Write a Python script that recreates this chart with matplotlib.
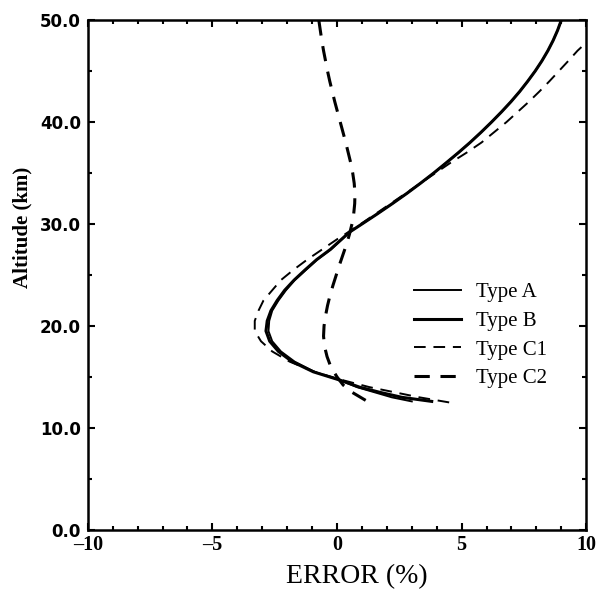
import matplotlib
matplotlib.use("Agg")
import matplotlib.pyplot as plt
from matplotlib.ticker import MultipleLocator

plt.rcParams['font.family'] = ['Liberation Serif', 'DejaVu Serif']

# altitude (km) / error (%)
alt_a = [12.6, 13.0, 13.5, 14.0, 14.7, 15.5, 16.5, 17.5, 18.5, 19.5, 20.5, 21.5,
         22.5, 23.5, 24.5, 25.5, 26.5, 27.5, 28.5, 29.2, 30, 31, 32, 33, 34, 35,
         36, 37, 38, 39, 40, 41, 42, 43, 44, 45, 46, 47, 48, 49, 50]
err_a = [3.0, 2.2, 1.5, 0.8, 0.1, -0.9, -1.7, -2.25, -2.6, -2.75, -2.72, -2.6,
         -2.35, -2.05, -1.7, -1.25, -0.8, -0.25, 0.2, 0.5, 1.0, 1.62, 2.22, 2.8,
         3.35, 3.88, 4.38, 4.87, 5.34, 5.78, 6.2, 6.6, 6.98, 7.33, 7.65, 7.95,
         8.22, 8.46, 8.67, 8.85, 9.0]

alt_b = [12.6, 13.0, 13.5, 14.0, 14.7, 15.5, 16.5, 17.5, 18.5, 19.5, 20.5, 21.5,
         22.5, 23.5, 24.5, 25.5, 26.5, 27.5, 28.5, 29.2, 30, 31, 32, 33, 34, 35,
         36, 37, 38, 39, 40, 41, 42, 43, 44, 45, 46, 47, 48, 49, 50]
err_b = [3.8, 2.6, 1.7, 0.9, 0.1, -0.95, -1.8, -2.35, -2.7, -2.85, -2.8, -2.65,
         -2.4, -2.1, -1.72, -1.28, -0.82, -0.27, 0.18, 0.5, 1.0, 1.62, 2.22, 2.8,
         3.35, 3.88, 4.38, 4.87, 5.34, 5.78, 6.2, 6.6, 6.98, 7.33, 7.65, 7.95,
         8.22, 8.46, 8.67, 8.85, 9.0]

alt_c1 = [12.5, 13.0, 13.5, 14.0, 14.7, 15.5, 16.5, 17.5, 18.5, 19.5, 20.5, 21.5,
          22.5, 23.5, 24.5, 25.5, 26.5, 27.5, 28.5, 29.2, 30, 31, 32, 33, 34, 35,
          36, 37, 38, 39, 40, 41, 42, 43, 44, 45, 46, 47, 47.8]
err_c1 = [4.5, 3.3, 2.3, 1.3, 0.2, -0.9, -1.9, -2.6, -3.05, -3.3, -3.3, -3.15,
          -2.95, -2.6, -2.25, -1.75, -1.2, -0.6, 0.0, 0.45, 0.95, 1.55, 2.15,
          2.75, 3.35, 3.95, 4.55, 5.2, 5.8, 6.3, 6.8, 7.25, 7.7, 8.12, 8.52,
          8.9, 9.28, 9.65, 10.0]

alt_c2 = [12.7, 13.5, 14.2, 15, 16, 17, 18, 19, 20, 21, 22, 23, 24, 25, 26, 27,
          28, 29, 30, 31, 32, 33, 34, 35, 36, 37, 38, 39, 40, 41, 42, 43, 44, 45,
          46, 47, 48, 49, 50]
err_c2 = [1.15, 0.6, 0.25, 0.0, -0.25, -0.4, -0.5, -0.54, -0.52, -0.46, -0.38,
          -0.28, -0.16, -0.03, 0.1, 0.24, 0.38, 0.5, 0.6, 0.67, 0.71, 0.72, 0.69,
          0.63, 0.55, 0.45, 0.35, 0.24, 0.13, 0.02, -0.09, -0.19, -0.29, -0.38,
          -0.46, -0.54, -0.61, -0.67, -0.73]

labels = ['Type A', 'Type B', 'Type C1', 'Type C2']
xticks = [-10, -5, 0, 5, 10]
xticklabels = ['\u201310', '\u20135', '0', '5', '10']
yticks = [0, 10, 20, 30, 40, 50]
yticklabels = ['0.0', '10.0', '20.0', '30.0', '40.0', '50.0']

fig = plt.figure(figsize=(5.97, 5.92), dpi=100)
ax = fig.add_axes([0.147, 0.105, 0.835, 0.861])

ax.plot(err_a, alt_a, color='black', lw=1.4, label=labels[0])
ax.plot(err_b, alt_b, color='black', lw=2.2, label=labels[1])
ax.plot(err_c1, alt_c1, color='black', lw=1.4, dashes=(6, 4), label=labels[2])
ax.plot(err_c2, alt_c2, color='black', lw=2.2, dashes=(5, 3.5), label=labels[3])

ax.set_xlim(-10, 10)
ax.set_ylim(0, 50)
ax.set_xticks(xticks)
ax.set_xticklabels(xticklabels, fontsize=14.5, fontweight='bold')
ax.set_yticks(yticks)
ax.set_yticklabels(yticklabels, fontsize=12, fontweight='bold',
                   family='DejaVu Sans')
ax.xaxis.set_minor_locator(MultipleLocator(1))
ax.yaxis.set_minor_locator(MultipleLocator(5))
ax.tick_params(which='both', direction='in', top=True, right=True, width=1.5)
ax.tick_params(which='major', length=5)
ax.tick_params(which='minor', length=3)
ax.tick_params(axis='x', pad=4)
ax.tick_params(axis='y', pad=5)
for s in ax.spines.values():
    s.set_linewidth(1.8)

ax.set_xlabel('ERROR (%)', fontsize=20, va='center')
ax.xaxis.set_label_coords(0.54, -0.092)
ax.set_ylabel('Altitude (km)', fontsize=15, fontweight='bold', va='center')
ax.yaxis.set_label_coords(-0.13, 0.594)

ax.legend(loc='upper left', bbox_to_anchor=(0.655, 0.485), frameon=False,
          fontsize=15, handlelength=2.25, handletextpad=0.7, labelspacing=0.44,
          borderpad=0, borderaxespad=0)

fig.savefig('out.png', dpi=100)
